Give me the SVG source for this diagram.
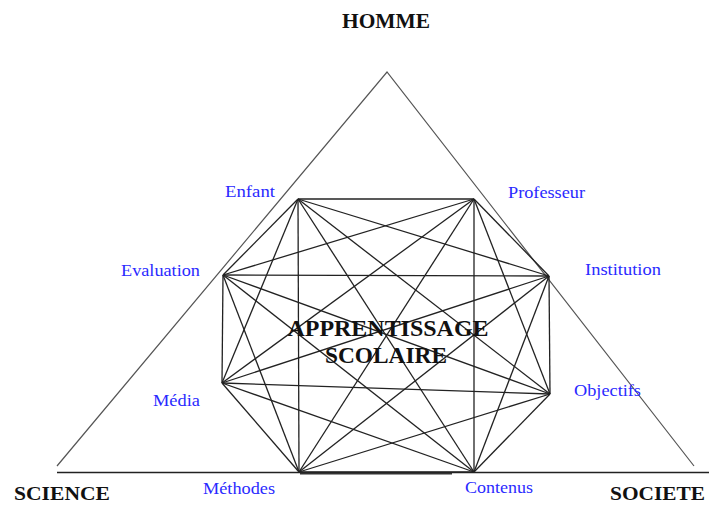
<svg xmlns="http://www.w3.org/2000/svg" width="709" height="505" viewBox="0 0 709 505">
<style>
.tri{stroke:#555;stroke-width:1.2;fill:none}
.e{stroke:#222;stroke-width:1.3;fill:none}
.lbl{font-family:"Liberation Serif",serif;font-size:17px;fill:#2a2aff}
.big{font-family:"Liberation Serif",serif;font-weight:bold;fill:#111}
</style>
<rect width="709" height="505" fill="#fff"/>
<g id="frame">
<polyline class="tri" points="57,466 387,72 694,466"/>
<line x1="57" y1="472.5" x2="709" y2="472.5" stroke="#222" stroke-width="1.3"/>
<line x1="300" y1="473.5" x2="452" y2="473.5" stroke="#333" stroke-width="2.2"/>
</g>
<g id="connectors">
<line class="e" x1="298" y1="199" x2="474" y2="199"/>
<line class="e" x1="298" y1="199" x2="549" y2="276"/>
<line class="e" x1="298" y1="199" x2="550" y2="394"/>
<line class="e" x1="298" y1="199" x2="474" y2="472"/>
<line class="e" x1="298" y1="199" x2="299" y2="472"/>
<line class="e" x1="298" y1="199" x2="222" y2="383"/>
<line class="e" x1="298" y1="199" x2="223" y2="275"/>
<line class="e" x1="474" y1="199" x2="549" y2="276"/>
<line class="e" x1="474" y1="199" x2="550" y2="394"/>
<line class="e" x1="474" y1="199" x2="474" y2="472"/>
<line class="e" x1="474" y1="199" x2="299" y2="472"/>
<line class="e" x1="474" y1="199" x2="222" y2="383"/>
<line class="e" x1="474" y1="199" x2="223" y2="275"/>
<line class="e" x1="549" y1="276" x2="550" y2="394"/>
<line class="e" x1="549" y1="276" x2="474" y2="472"/>
<line class="e" x1="549" y1="276" x2="299" y2="472"/>
<line class="e" x1="549" y1="276" x2="222" y2="383"/>
<line class="e" x1="549" y1="276" x2="223" y2="275"/>
<line class="e" x1="550" y1="394" x2="474" y2="472"/>
<line class="e" x1="550" y1="394" x2="299" y2="472"/>
<line class="e" x1="550" y1="394" x2="222" y2="383"/>
<line class="e" x1="550" y1="394" x2="223" y2="275"/>
<line class="e" x1="474" y1="472" x2="299" y2="472"/>
<line class="e" x1="474" y1="472" x2="222" y2="383"/>
<line class="e" x1="474" y1="472" x2="223" y2="275"/>
<line class="e" x1="299" y1="472" x2="222" y2="383"/>
<line class="e" x1="299" y1="472" x2="223" y2="275"/>
<line class="e" x1="222" y1="383" x2="223" y2="275"/>
</g>
<g id="homme"><text class="big" x="386" y="28" font-size="20" text-anchor="middle" textLength="88" lengthAdjust="spacingAndGlyphs">HOMME</text></g>
<g id="science"><text class="big" x="14" y="500" font-size="19.5" textLength="96" lengthAdjust="spacingAndGlyphs">SCIENCE</text></g>
<g id="societe"><text class="big" x="610" y="500" font-size="19.5" textLength="95" lengthAdjust="spacingAndGlyphs">SOCIETE</text></g>
<g id="apprentissage"><text class="big" x="388" y="336" font-size="23" text-anchor="middle" textLength="201" lengthAdjust="spacingAndGlyphs">APPRENTISSAGE</text>
<text class="big" x="386" y="363" font-size="23" text-anchor="middle" textLength="122" lengthAdjust="spacingAndGlyphs">SCOLAIRE</text></g>
<g id="enfant"><text class="lbl" x="225" y="197" textLength="50" lengthAdjust="spacingAndGlyphs">Enfant</text></g>
<g id="professeur"><text class="lbl" x="508" y="198" textLength="77" lengthAdjust="spacingAndGlyphs">Professeur</text></g>
<g id="evaluation"><text class="lbl" x="121" y="276" textLength="79" lengthAdjust="spacingAndGlyphs">Evaluation</text></g>
<g id="institution"><text class="lbl" x="585" y="275" textLength="76" lengthAdjust="spacingAndGlyphs">Institution</text></g>
<g id="media"><text class="lbl" x="153" y="406" textLength="47" lengthAdjust="spacingAndGlyphs">Média</text></g>
<g id="objectifs"><text class="lbl" x="574" y="396" textLength="67" lengthAdjust="spacingAndGlyphs">Objectifs</text></g>
<g id="methodes"><text class="lbl" x="203" y="494" textLength="72" lengthAdjust="spacingAndGlyphs">Méthodes</text></g>
<g id="contenus"><text class="lbl" x="465" y="493" textLength="68" lengthAdjust="spacingAndGlyphs">Contenus</text></g>
</svg>
